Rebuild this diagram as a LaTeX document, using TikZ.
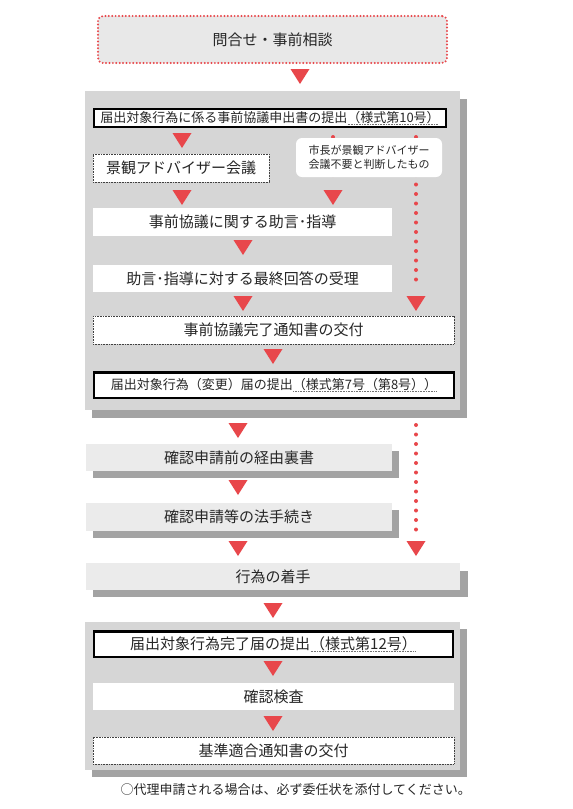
\documentclass[tikz,border=0pt]{standalone}
\usepackage{fontspec}
\setmainfont{Noto Sans CJK JP}
\definecolor{rd}{HTML}{E8474B}
\definecolor{panelgray}{HTML}{D6D6D6}
\definecolor{shadegray}{HTML}{A3A3A3}
\definecolor{litegray}{HTML}{EBEBEB}
\definecolor{topgray}{HTML}{E8E8E8}
\newcommand\dotul[1]{\setbox0\hbox{#1}\rlap{\raisebox{-2.5pt}{\color{black!55}\hbox to\wd0{\leaders\hbox to 1.6pt{\hss\rule{0.8pt}{0.6pt}\hss}\hfill}}}\box0}
\newcommand\dtri[2]{\fill[rd] (#1-9.5,#2) -- (#1+9.5,#2) -- (#1,#2+15) -- cycle;}
\tikzset{
  basebox/.style={inner sep=0pt, font=\fontsize{15}{18}\selectfont, text=black!85},
  smallfont/.style={font=\fontsize{13}{16}\selectfont},
  thickbox/.style={basebox, draw=black, line width=2.5pt, fill=white},
  dotbox/.style={basebox, draw=black!75, line width=0.8pt, dash pattern=on 0.8pt off 0.8pt, fill=white},
  plainbox/.style={basebox, fill=white},
  graybox/.style={basebox, fill=litegray},
  topbox/.style={basebox, draw=rd, fill=topgray, line width=2.2pt, line cap=round, dash pattern=on 0pt off 3.4pt, rounded corners=5pt},
  notebox/.style={basebox, fill=white, rounded corners=6pt, font=\fontsize{11}{14}\selectfont, align=center},
  reddots/.style={draw=rd, line width=4pt, line cap=round, dash pattern=on 0pt off 9.5pt},
}
\begin{document}
\begin{tikzpicture}[x=1pt,y=-1pt]
\useasboundingbox (0,0) rectangle (573,809);
\fill[white] (0,0) rectangle (573,809);

% top box
\node[topbox, minimum width=349pt, minimum height=47pt] (q) at (272.5,39.5) {問合せ・事前相談};
\dtri{300}{69}

% panel 1
\fill[shadegray] (92,99) rectangle (467,418);
\fill[panelgray] (85,91) rectangle (460,410);

% red dotted lines panel 1
\coordinate (d1a) at (333,137);
\coordinate (d1b) at (333,176);
\coordinate (d2a) at (416,137);
\coordinate (d2b) at (416,289);
\draw[reddots] (d1a) -- (d1b);
\draw[reddots] (d2a) -- (d2b);

\node[thickbox, smallfont, minimum width=352pt, minimum height=18pt] (b1) at (270,118)
  {届出対象行為に係る事前協議申出書の提出\dotul{（様式第10号）}};
\node[dotbox, minimum width=176pt, minimum height=28pt] (b2) at (181,168) {景観アドバイザー会議};
\node[notebox, minimum width=146pt, minimum height=39pt] (note) at (369,157.5)
  {市長が景観アドバイザー\\会議不要と判断したもの};
\node[plainbox, minimum width=299pt, minimum height=28pt] (b3) at (242.5,222) {事前協議に関する助言･指導};
\node[plainbox, minimum width=299pt, minimum height=27pt] (b4) at (242.5,278.5) {助言･指導に対する最終回答の受理};
\node[dotbox, minimum width=361pt, minimum height=28pt] (b5) at (273.5,330) {事前協議完了通知書の交付};
\node[thickbox, smallfont, minimum width=360pt, minimum height=25.5pt] (b6) at (274,385)
  {届出対象行為（変更）届の提出\dotul{（様式第7号（第8号））}};

\dtri{182}{133}
\dtri{182}{190}
\dtri{333}{190}
\dtri{243}{240}
\dtri{243}{296}
\dtri{416}{296}
\dtri{273}{349}

% middle section
\coordinate (d3a) at (416,425);
\coordinate (d3b) at (416,532);
\draw[reddots] (d3a) -- (d3b);
\dtri{238}{423}

\fill[shadegray] (93,451) rectangle (399,478);
\node[graybox, minimum width=306pt, minimum height=27pt] (g1) at (239,457.5) {確認申請前の経由裏書};
\dtri{238}{480}
\fill[shadegray] (93,510) rectangle (399,538);
\node[graybox, minimum width=306pt, minimum height=28pt] (g2) at (239,517) {確認申請等の法手続き};
\dtri{238}{541}
\dtri{416}{541}
\fill[shadegray] (93,571) rectangle (468,597);
\node[graybox, minimum width=374pt, minimum height=27pt] (g3) at (273,576.5) {行為の着手};
\dtri{273}{603}

% panel 3
\fill[shadegray] (92,629) rectangle (467,777);
\fill[panelgray] (85,622) rectangle (460,770);
\node[thickbox, minimum width=359pt, minimum height=25.5pt] (c1) at (273.5,644)
  {届出対象行為完了届の提出\dotul{（様式第12号）}};
\dtri{273}{661}
\node[plainbox, minimum width=361pt, minimum height=27pt] (c2) at (273.5,696.5) {確認検査};
\dtri{273}{716}
\node[dotbox, minimum width=361pt, minimum height=27pt] (c3) at (273.5,750.5) {基準適合通知書の交付};

\node[basebox, smallfont, anchor=east] (fn) at (471,790) {○代理申請される場合は、必ず委任状を添付してください。};
\end{tikzpicture}
\end{document}
